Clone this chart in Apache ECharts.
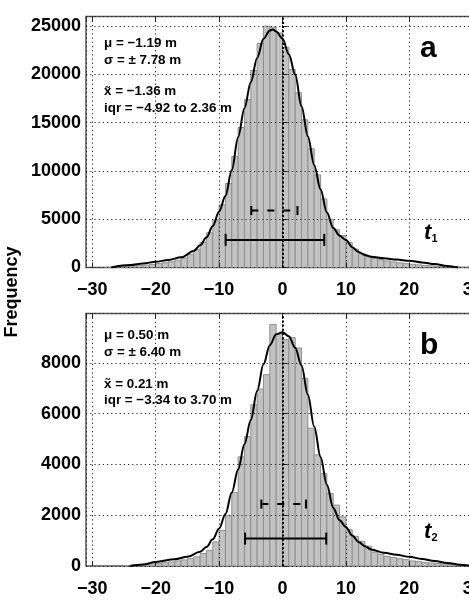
<!DOCTYPE html>
<html><head><meta charset="utf-8">
<script src="https://cdn.jsdelivr.net/npm/echarts@6/dist/echarts.min.js"></script>
<style>html,body{margin:0;padding:0;background:#fff}#c{width:469px;height:613px}</style>
</head><body><div id="c"></div>
<script>
// ---------- data ----------
const BIN_WIDTH = 1;
const binCenters = [-27.5,-26.5,-25.5,-24.5,-23.5,-22.5,-21.5,-20.5,-19.5,-18.5,-17.5,-16.5,-15.5,-14.5,-13.5,-12.5,-11.5,-10.5,-9.5,-8.5,-7.5,-6.5,-5.5,-4.5,-3.5,-2.5,-1.5,-0.5,
  0.5,1.5,2.5,3.5,4.5,5.5,6.5,7.5,8.5,9.5,10.5,11.5,12.5,13.5,14.5,15.5,16.5,17.5,18.5,19.5,20.5,21.5,22.5,23.5,24.5,25.5,26.5,27.5,28.5,29.5];
const countsA = [20,40,70,100,140,190,250,320,400,490,600,760,980,1350,1850,2600,3600,4900,6500,8700,11500,14500,17400,20400,23200,25000,24900,24300,
  22800,20500,18100,15300,12300,9600,7100,5000,3900,3300,2600,1900,1450,1150,950,800,680,580,480,400,330,270,220,170,130,100,70,50,30,20];
const countsB = [0,0,0,10,20,40,60,80,100,130,160,200,240,290,360,490,620,950,1400,1980,2900,4300,5100,6350,6970,7540,9520,9150,
  8920,9000,8590,7400,5430,4380,3650,2860,2400,1940,1440,1170,975,780,550,460,380,330,290,250,200,170,140,120,100,80,60,40,30,20];

const curveXA = [-27,-24,-22,-20,-18,-16,-14,-13,-12,-11,-10,-9,-8,-7,-6,-5,-4,-3,-2,-1.5,-1,0,1,2,3,4,5,6,7,8,9,10,11,12,13,14,16,18,20,22,24,26,27.7];
const curveYA = [0,250,420,590,780,1050,1700,2300,3100,4300,5800,7400,10100,13500,16500,19200,21700,23700,24550,24650,24450,23700,22100,20000,16700,13600,10600,8100,5700,4100,3300,2850,2100,1600,1300,1120,950,820,700,530,350,160,0];
const curveXB = [-24.1,-22,-20,-17,-15,-13,-12,-11,-10,-9,-8,-7,-6,-5,-4,-3,-2,-1,0,1,2,3,4,5,6,7,8,9,10,11,12,13,14,16,18,20,22,24,26,28,30];
const curveYB = [0,60,160,270,360,560,750,1050,1480,2050,2900,3800,4800,5750,6900,7950,8700,9130,9210,9050,8600,7900,6750,5500,4300,3200,2300,1800,1540,1200,950,780,650,520,440,360,280,200,120,50,0];

const means = [-1.19, 0.50];
const stds = [7.78, 6.40];
const medians = [-1.36, 0.21];
const iqrLow = [-4.92, -3.34];
const iqrHigh = [2.36, 3.70];
const panelLetters = ['a', 'b'];
const timeSubs = ['1', '2'];
const xTickStep = 10;
const yTickSteps = [5000, 2000];
const yMax = [26000, 9950];
const xMin = -31, xMax = 31;
const ZERO_REF = 0;
// vertical levels (in frequency units) at which the two range bars are drawn
const sdBarLevel = [2860, 1080];
const iqrBarLevel = [5900, 2440];

// ---------- layout / style ----------
const FONT = '"Liberation Sans", Arial, Helvetica, sans-serif';
const grids = [
  {left: 86, top: 16.5, right: -10, height: 251},
  {left: 86, top: 313.5, right: -10, height: 252.5}
];
const fmt = v => (v < 0 ? '\u2212' : '') + Math.abs(v).toFixed(2);
const tickFmt = v => (v < 0 ? '\u2212' + (-v) : '' + v);

const chart = echarts.init(document.getElementById('c'), null, {renderer: 'canvas'});

const xAxes = [], yAxes = [], series = [], graphics = [];
const countsAll = [countsA, countsB];
const curvesX = [curveXA, curveXB], curvesY = [curveYA, curveYB];
const gridLine = {color: '#222', width: 1, type: [1.2, 3]};

grids.forEach((g, p) => {
  xAxes.push({
    gridIndex: p, type: 'value', position: 'bottom', min: xMin, max: xMax,
    minInterval: xTickStep, maxInterval: xTickStep, z: 3,
    axisLine: {show: false},
    axisTick: {show: true, inside: true, length: 5, lineStyle: {color: '#222'}},
    axisLabel: {show: true, showMinLabel: false, showMaxLabel: false, margin: 14, hideOverlap: false,
      fontFamily: FONT, fontWeight: 'bold', fontSize: 18, color: '#000', formatter: tickFmt},
    splitLine: {show: true, lineStyle: gridLine}
  });
  xAxes.push({
    gridIndex: p, type: 'value', position: 'top', min: xMin, max: xMax,
    minInterval: xTickStep, maxInterval: xTickStep, z: 3,
    axisLine: {show: false},
    axisTick: {show: true, inside: true, length: 5, lineStyle: {color: '#222'}},
    axisLabel: {show: false}, splitLine: {show: false}
  });
  yAxes.push({
    gridIndex: p, type: 'value', min: 0, max: yMax[p],
    minInterval: yTickSteps[p], maxInterval: yTickSteps[p], z: 3,
    axisLine: {show: false},
    axisTick: {show: true, inside: true, length: 5, lineStyle: {color: '#222'}},
    axisLabel: {show: true, showMaxLabel: false, margin: 5,
      fontFamily: FONT, fontWeight: 'bold', fontSize: 18, color: '#000', formatter: tickFmt},
    splitLine: {show: true, lineStyle: gridLine}
  });

  // histogram bars
  series.push({
    type: 'custom', xAxisIndex: p * 2, yAxisIndex: p, z: 1, clip: true, silent: true,
    data: binCenters.map((c, i) => [c, countsAll[p][i]]),
    renderItem: (params, api) => {
      const c = api.value(0), v = api.value(1);
      if (!v) return null;
      const a = api.coord([c - BIN_WIDTH / 2, v]);
      const b = api.coord([c + BIN_WIDTH / 2, 0]);
      return {type: 'rect', shape: {x: a[0], y: a[1], width: b[0] - a[0], height: b[1] - a[1]},
        style: {fill: '#c2c2c2', stroke: '#8f8f8f', lineWidth: 1}};
    }
  });
  // fitted curve + zero line
  series.push({
    type: 'line', xAxisIndex: p * 2, yAxisIndex: p, z: 5, silent: true,
    data: curvesX[p].map((x, i) => [x, curvesY[p][i]]),
    smooth: 0.35, smoothMonotone: 'x', symbol: 'none', showSymbol: false,
    lineStyle: {color: '#000', width: 2},
    markLine: {silent: true, symbol: ['none', 'none'], label: {show: false},
      lineStyle: {color: '#000', width: 2, type: [2, 2.2]}, data: [{xAxis: ZERO_REF}]}
  });
  // range bars (mean ± sd solid, iqr dashed)
  series.push({
    type: 'custom', xAxisIndex: p * 2, yAxisIndex: p, z: 6, silent: true,
    data: [
      [means[p] - stds[p], means[p] + stds[p], sdBarLevel[p], 0],
      [iqrLow[p], iqrHigh[p], iqrBarLevel[p], 1]
    ],
    renderItem: (params, api) => {
      const lo = api.coord([api.value(0), api.value(2)]);
      const hi = api.coord([api.value(1), api.value(2)]);
      const dashed = api.value(3) === 1;
      const capH = dashed ? 4.5 : 6;
      const st = {stroke: '#000', lineWidth: 2};
      return {type: 'group', children: [
        {type: 'line', shape: {x1: lo[0], y1: lo[1], x2: hi[0], y2: hi[1]},
          style: Object.assign({}, st, dashed ? {lineDash: [7, 9]} : {})},
        {type: 'line', shape: {x1: lo[0], y1: lo[1] - capH, x2: lo[0], y2: lo[1] + capH}, style: st},
        {type: 'line', shape: {x1: hi[0], y1: hi[1] - capH, x2: hi[0], y2: hi[1] + capH}, style: st}
      ]};
    }
  });

  // annotations
  const lines = [
    'μ = ' + fmt(means[p]) + ' m',
    'σ = ± ' + stds[p].toFixed(2) + ' m',
    'x\u0303 = ' + fmt(medians[p]) + ' m',
    'iqr = ' + fmt(iqrLow[p]) + ' to ' + fmt(iqrHigh[p]) + ' m'
  ];
  const ys = p === 0 ? [43.3, 60.3, 91.7, 108.3] : [335, 352.3, 384, 400.7];
  lines.forEach((t, i) => graphics.push({type: 'text', x: 104, y: ys[i], z: 100,
    style: {text: t, font: 'bold 13.4px ' + FONT, fill: '#000', align: 'left', verticalAlign: 'middle'}}));
  graphics.push({type: 'text', x: 420, y: p === 0 ? 49 : 345.6, z: 100,
    style: {text: panelLetters[p], font: 'bold 30px ' + FONT, fill: '#000', align: 'left', verticalAlign: 'middle'}});
  const ty = p === 0 ? 233 : 532;
  graphics.push({type: 'text', x: 424, y: ty, z: 100,
    style: {text: 't', font: 'italic bold 22px ' + FONT, fill: '#000', align: 'left', verticalAlign: 'middle'}});
  graphics.push({type: 'text', x: 431.5, y: ty + 6, z: 100,
    style: {text: timeSubs[p], font: 'bold 11px ' + FONT, fill: '#000', align: 'left', verticalAlign: 'middle'}});
});

graphics.push({type: 'text', x: 12, y: 292, rotation: Math.PI / 2, z: 100,
  style: {text: 'Frequency', font: 'bold 18px ' + FONT, fill: '#000', align: 'center', verticalAlign: 'middle'}});

chart.setOption({
  animation: false,
  backgroundColor: '#fff',
  grid: grids.map(g => Object.assign({show: true, borderColor: '#555', borderWidth: 1.5, backgroundColor: 'transparent',
    containLabel: false, outerBoundsMode: 'none'}, g)),
  xAxis: xAxes,
  yAxis: yAxes,
  series: series,
  graphic: graphics
});
</script></body></html>
